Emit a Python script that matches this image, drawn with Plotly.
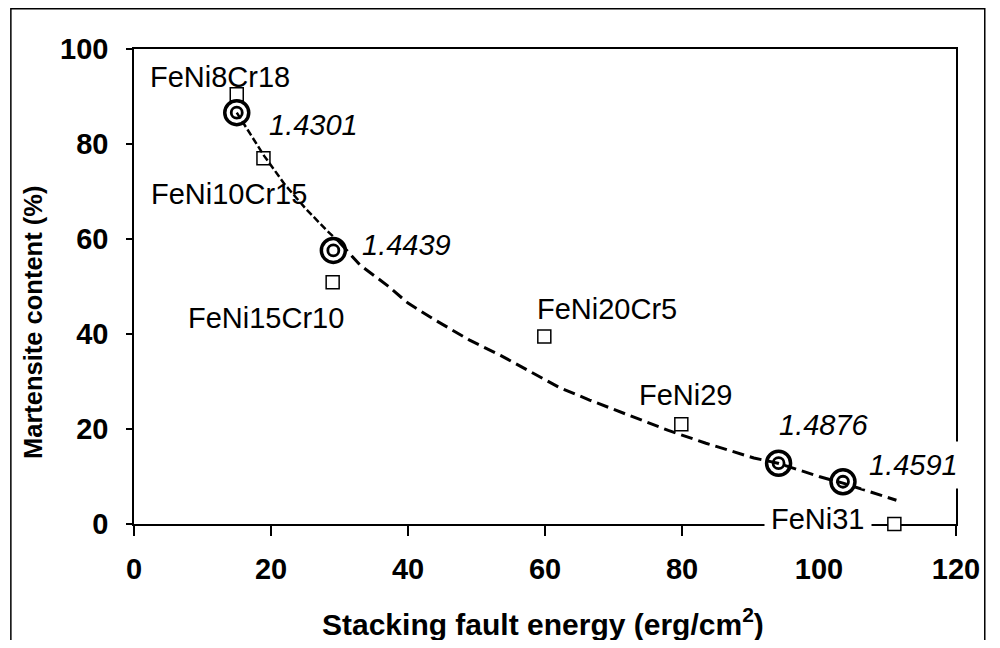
import plotly.graph_objects as go

# Alloy data points (square markers)
alloys = ["FeNi8Cr18", "FeNi10Cr15", "FeNi15Cr10", "FeNi20Cr5", "FeNi29", "FeNi31"]
alloy_sfe = [15.0, 18.9, 29.0, 59.9, 79.9, 111.0]
alloy_mart = [90.5, 77.0, 50.9, 39.5, 21.0, 0.0]
# label positions (data coords) for each alloy name
alloy_label_x = [12.5, 13.8, 19.3, 69.1, 80.6, 99.9]
alloy_label_y = [94.1, 69.5, 43.3, 45.2, 27.1, 1.0]

# Ringed points with italic values
ring_labels = ["1.4301", "1.4439", "1.4876", "1.4591"]
ring_sfe = [15.0, 29.1, 94.1, 103.5]
ring_mart = [86.6, 57.6, 12.8, 8.9]
ring_label_x = [26.2, 39.8, 100.7, 113.8]
ring_label_y = [84.0, 58.7, 20.8, 12.4]

# Dashed trend curve (two segments)
curve_a_x = [15.0, 17.0, 19.0, 22.0, 25.0, 28.0, 30.0]
curve_a_y = [86.6, 82.0, 77.5, 71.5, 66.5, 62.0, 59.3]
curve_b_x = [30.0, 33.0, 37.0, 40.0, 44.0, 49.0, 53.5, 57.5, 62.0, 66.5, 71.5,
             78.0, 83.5, 90.5, 94.0, 100.0, 103.5, 108.0, 111.3]
curve_b_y = [59.3, 54.5, 50.2, 46.5, 42.9, 38.7, 35.5, 32.4, 28.8, 26.1, 23.3,
             19.7, 17.0, 13.9, 12.8, 10.0, 8.6, 6.5, 5.0]

x_ticks = [0, 20, 40, 60, 80, 100, 120]
y_ticks = [0, 20, 40, 60, 80, 100]

FONT = "Liberation Sans, Arial, Helvetica, sans-serif"

fig = go.Figure()

fig.add_trace(go.Scatter(
    x=alloy_sfe, y=alloy_mart, mode="markers",
    marker=dict(symbol="square", size=13, color="white",
                line=dict(color="black", width=1.5)),
    cliponaxis=False, showlegend=False, hoverinfo="skip"))

fig.add_trace(go.Scatter(
    x=curve_a_x, y=curve_a_y, mode="lines",
    line=dict(color="black", width=2.5, dash="7px,3px"),
    showlegend=False, hoverinfo="skip"))
fig.add_trace(go.Scatter(
    x=curve_b_x, y=curve_b_y, mode="lines",
    line=dict(color="black", width=3, dash="12px,6px"),
    showlegend=False, hoverinfo="skip"))

fig.add_trace(go.Scatter(
    x=ring_sfe, y=ring_mart, mode="markers",
    marker=dict(symbol="circle-open", size=24, color="black",
                line=dict(color="black", width=3.5)),
    showlegend=False, hoverinfo="skip"))
fig.add_trace(go.Scatter(
    x=ring_sfe, y=ring_mart, mode="markers",
    marker=dict(symbol="circle-open", size=11, color="black",
                line=dict(color="black", width=2.8)),
    showlegend=False, hoverinfo="skip"))

annotations = []
for name, lx, ly in zip(alloys, alloy_label_x, alloy_label_y):
    a = dict(x=lx, y=ly, xref="x", yref="y", text=name, showarrow=False,
             font=dict(family=FONT, size=29, color="black"),
             xanchor="center", yanchor="middle")
    if name == "FeNi31":
        a.update(bgcolor="white", borderpad=6)
    annotations.append(a)
for name, lx, ly in zip(ring_labels, ring_label_x, ring_label_y):
    a = dict(x=lx, y=ly, xref="x", yref="y", text=f"<i>{name}</i>", showarrow=False,
             font=dict(family=FONT, size=29, color="black"),
             xanchor="center", yanchor="middle")
    if name == "1.4591":
        a.update(bgcolor="white", borderpad=7)
    annotations.append(a)

annotations.append(dict(
    x=0.497, y=-0.206, xref="paper", yref="paper",
    text="<b>Stacking fault energy (erg/cm<sup>2</sup>)</b>", showarrow=False,
    font=dict(family=FONT, size=30, color="black"), xanchor="center", yanchor="middle"))
annotations.append(dict(
    x=-0.123, y=0.425, xref="paper", yref="paper",
    text="<b>Martensite content (%)</b>", showarrow=False, textangle=-90,
    font=dict(family=FONT, size=25.5, color="black"), xanchor="center", yanchor="middle"))

fig.update_layout(
    width=984, height=632,
    margin=dict(l=126, r=30, t=41, b=116),
    paper_bgcolor="white", plot_bgcolor="white",
    annotations=annotations,
    shapes=[dict(type="rect", xref="paper", yref="paper",
                 x0=-0.1498, x1=1.035, y0=-0.3, y1=1.0847,
                 line=dict(color="black", width=1.5), fillcolor="rgba(0,0,0,0)",
                 layer="below")],
)

fig.update_xaxes(
    range=[0, 120], tickvals=x_ticks, ticktext=[str(v) for v in x_ticks],
    ticks="outside", ticklen=10, tickwidth=1.5, tickcolor="black",
    showline=True, linecolor="black", linewidth=1.5, mirror=True,
    showgrid=False, zeroline=False, layer="below traces",
    tickfont=dict(family=FONT, size=29, color="black", weight="bold"),
    ticklabelstandoff=8)
fig.update_yaxes(
    range=[0, 100], tickvals=y_ticks, ticktext=[str(v) for v in y_ticks],
    ticks="outside", ticklen=6, tickwidth=1.5, tickcolor="black",
    showline=True, linecolor="black", linewidth=1.5, mirror=True,
    showgrid=False, zeroline=False, layer="below traces",
    tickfont=dict(family=FONT, size=29, color="black", weight="bold"),
    ticklabelstandoff=12)

fig.write_html("out.html")
